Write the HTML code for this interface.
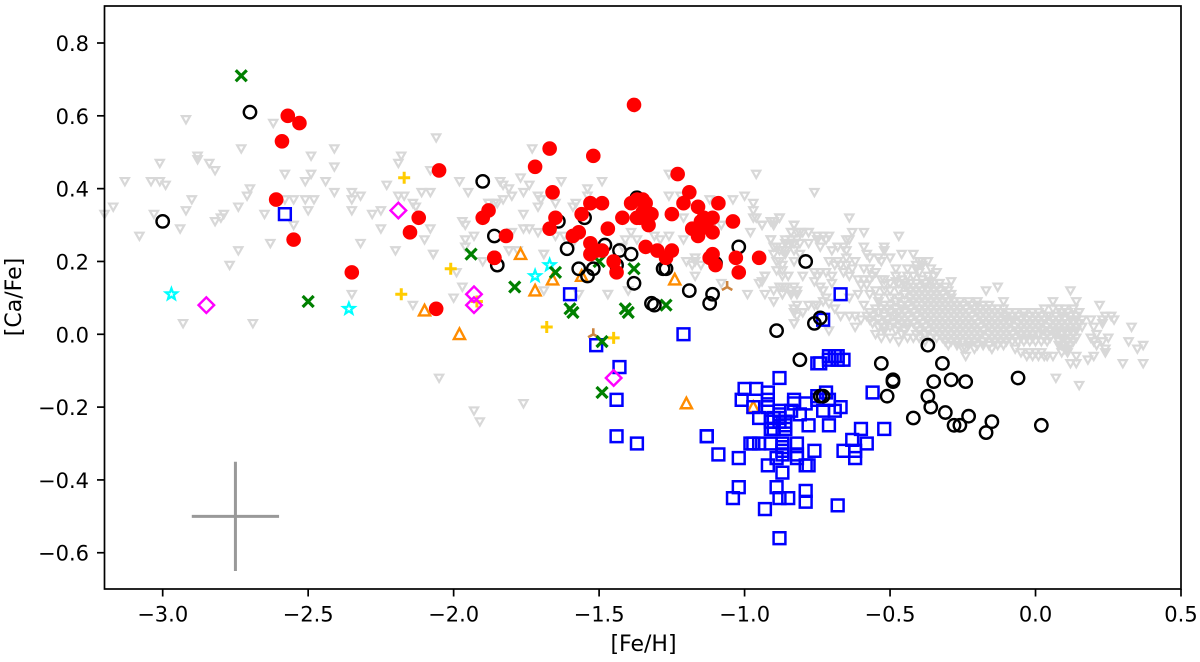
<!DOCTYPE html>
<html lang="en">
<head>
<meta charset="utf-8">
<title>[Ca/Fe] vs [Fe/H]</title>
<style>
html,body{margin:0;padding:0;background:#fff;}
svg{display:block;}
text{font-family:"DejaVu Sans","Liberation Sans",sans-serif;fill:#000;}
</style>
</head>
<body>
<svg id="chart" xmlns="http://www.w3.org/2000/svg" width="1200" height="662" viewBox="0 0 1200 662">
  <rect x="0" y="0" width="1200" height="662" fill="#fff"></rect>
  <g id="marks"></g>
  <rect x="104.5" y="6" width="1076.5" height="583" fill="none" stroke="#000" stroke-width="1.7"></rect>
  <g id="axes"></g>
  <text x="643.5" y="651" font-size="22" text-anchor="middle">[Fe/H]</text>
  <text x="21" y="297" font-size="22" text-anchor="middle" transform="rotate(-90 21 297)">[Ca/Fe]</text>
</svg>
<script>
const xTicks = [-3.0,-2.5,-2.0,-1.5,-1.0,-0.5,0.0,0.5];
const xTickLabels = ["\u22123.0","\u22122.5","\u22122.0","\u22121.5","\u22121.0","\u22120.5","0.0","0.5"];
const yTicks = [-0.6,-0.4,-0.2,0.0,0.2,0.4,0.6,0.8];
const yTickLabels = ["\u22120.6","\u22120.4","\u22120.2","0.0","0.2","0.4","0.6","0.8"];
const errorCenter = [-2.75,-0.5];
const errorHalf = [0.15,0.15];

const fieldStars = [
[-2.92,.59],[-2.62,.58],[-2.73,.51],[-2.41,.51],[-2.49,.49],[-2.88,.49],[-2.88,.48],[-3.01,.47],[-2.84,.47],[-2.82,.45],[-2.41,.46],[-2.49,.44],[-2.58,.44],[-2.51,.42],[-2.44,.42],[-3.13,.42],[-3.04,.42],[-3.01,.42],[-2.99,.41],[-2.70,.40],[-2.71,.38],[-2.41,.39],[-2.35,.39],[-2.35,.37],[-2.32,.38],[-2.90,.37],[-2.58,.37],[-2.55,.37],[-2.51,.37],[-2.48,.37],[-3.17,.35],[-2.92,.34],[-2.74,.35],[-2.50,.34],[-2.35,.34],[-3.20,.33],[-3.03,.33],[-2.79,.33],[-2.80,.32],[-2.82,.31],[-2.65,.33],[-2.94,.29],[-3.08,.27],[-2.55,.30],[-2.63,.25],[-2.32,.25],[-2.74,.23],[-2.77,.19],[-2.35,.11],[-2.93,.03],[-2.69,.03],
[-2.28,.33],[-2.25,.34],[-2.25,.29],[-2.20,.23],[-2.23,.41],[-2.18,.49],[-2.19,.47],[-2.19,.38],[-2.17,.38],[-2.14,.36],[-2.13,.35],[-2.11,.39],[-2.08,.39],[-2.06,.54],[-2.08,.45],[-1.98,.42],[-1.95,.39],[-1.97,.31],[-1.96,.30],[-2.08,.29],[-2.10,.26],[-2.07,.22],[-1.96,.26],[-1.93,.27],[-1.96,.24],[-1.90,.20],[-1.99,.17],[-1.97,.13],[-2.00,.10],[-2.14,.08],[-1.88,.36],[-1.85,.36],[-1.84,.42],
[-2.05,-.12],[-1.76,-.19],[-1.93,-.21],[-1.91,-.24],[-2.07,.22],[-1.81,.23],[-1.78,.23],[-1.69,.22],[-1.47,.11],[-1.40,.12],[-1.57,.11],[-1.69,.12],
[-1.73,.51],[-1.77,.43],[-1.74,.41],[-1.76,.39],[-1.63,.42],[-1.49,.42],[-1.83,.41],[-1.81,.40],[-1.80,.38],[-1.83,.37],[-1.88,.36],[-1.86,.36],[-1.71,.38],[-1.70,.37],[-1.71,.35],[-1.54,.40],[-1.54,.38],[-1.58,.36],[-1.59,.35],[-1.76,.33],[-1.65,.36],[-1.26,.44],[-1.26,.38],[-1.22,.38],[-.96,.44],[-.76,.39],[-1.12,.37],[-1.04,.37],[-1.00,.38],[-.97,.36],[-.97,.34],[-.97,.32],[-.96,.32],[-.94,.30],[-.90,.30],[-.88,.32],[-.91,.31],[-.98,.28],[-.83,.30],[-.84,.28],[-.82,.28],[-.80,.28],[-.78,.28],[-.91,.26],[-.89,.24],[-.87,.23],[-.86,.26],[-.86,.23],[-.83,.25],[-.75,.26],[-1.76,.29],[-1.74,.29],[-1.71,.28],[-1.21,.32],[-1.80,.28],[-1.81,.23],[-1.69,.22],[-1.62,.27],[-1.59,.25],[-1.65,.27],[-1.39,.28],[-1.41,.26],[-1.37,.26],[-1.42,.24],[-1.29,.26],[-1.26,.27],[-1.31,.27],[-1.21,.26],[-1.17,.21],[-1.17,.20],[-1.18,.19],[-1.15,.19],[-1.17,.16],[-1.20,.20],[-1.08,.14],[-.99,.11],[-1.08,.30],[-1.11,.30],[-.93,.16],[-.95,.14],[-.90,.12],[-.88,.13],[-.86,.13],[-.84,.11],[-.82,.11],[-.87,.11],[-.90,.09],[-1.47,.11],[-1.40,.12],[-.90,.22],[-.87,.19],[-.89,.20],[-.82,.08],[-.83,.06],[-.80,.06],[-.83,.03],[-.76,.08],
[-.88,.32],[-.90,.31],[-.90,.30],[-.94,.30],[-.83,.30],[-.64,.32],[-.59,.28],[-.47,.27],[-.84,.28],[-.81,.28],[-.78,.28],[-.75,.27],[-.73,.27],[-.71,.27],[-.63,.28],[-.65,.26],[-.84,.26],[-.82,.26],[-.84,.25],[-.86,.25],[-.81,.25],[-.78,.25],[-.74,.24],[-.75,.26],[-.72,.26],[-.64,.26],[-.66,.24],[-.91,.26],[-.90,.24],[-.88,.23],[-.86,.22],[-.83,.23],[-.81,.22],[-.59,.24],[-.52,.24],[-.52,.23],[-.65,.23],[-.68,.24],[-.70,.23],[-.46,.22],[-.42,.22],[-.58,.22],[-.57,.21],[-.54,.21],[-.50,.21],[-.53,.20],[-.88,.20],[-.83,.20],[-.71,.20],[-.68,.20],[-.62,.20],[-.65,.21],[-.40,.20],[-.39,.20],[-.37,.20],[-.41,.19],[-.39,.19],[-.48,.18],[-.34,.17],[-.89,.175],[-.87,.175],[-.85,.16],[-.87,.16],[-.93,.16],[-.94,.145],[-.80,.16],[-.76,.17],[-.74,.17],[-.72,.17],[-.75,.16],[-.70,.16],[-.67,.19],[-.65,.19],[-.63,.18],[-.66,.17],[-.64,.16],[-.69,.19],[-.59,.18],[-.57,.18],[-.61,.15],[-.59,.15],[-.57,.15],[-.60,.135],[-.58,.135],[-.56,.16],[-.52,.15],[-.48,.16],[-.46,.15],[-.48,.145],[-.45,.135],[-.40,.17],[-.39,.15],[-.36,.145],[-.33,.14],[-.29,.145],[-.76,.145],[-.74,.13],[-.70,.14],[-.73,.12],[-.83,.13],[-.87,.13],[-.84,.12],[-.82,.12],[-.87,.11],[-.84,.11],[-.93,.11],[-.90,.09],[-.78,.08],[-.75,.08],[-.83,.07],[-.80,.06],[-.82,.05],[-.83,.03],[-.71,.01],[-.67,.05],[-.64,.05],[-.62,.05],[-.69,.07],[-.62,.02],[-.72,.10],[-.73,.09],[-.71,.085],[-.59,.08],[-.64,.10],[-.61,.11],[-.57,.11],[-.54,.10],
[-.50,.14],[-.47,.14],[-.43,.14],[-.41,.14],[-.38,.14],[-.35,.14],[-.44,.16],[-.42,.16],[-.37,.16],[-.35,.16],[-.44,.18],[-.41,.18],[-.36,.18],[-.55,.17],[-.53,.15],[-.55,.12],[-.52,.12],[-.50,.12],[-.47,.12],[-.52,.135],
[-.44,.13],[-.42,.13],[-.40,.13],[-.38,.13],[-.36,.13],[-.34,.13],[-.31,.13],[-.43,.12],[-.41,.12],[-.39,.12],[-.37,.12],[-.35,.12],[-.33,.12],[-.30,.12],[-.45,.11],[-.42,.11],[-.40,.11],[-.38,.11],[-.36,.11],[-.34,.11],[-.32,.11],[-.29,.11],
[-.50,.10],[-.47,.10],[-.43,.10],[-.41,.10],[-.39,.10],[-.37,.10],[-.35,.10],[-.33,.10],[-.31,.10],[-.29,.10],
[-.54,.09],[-.48,.09],[-.45,.09],[-.42,.09],[-.38,.09],[-.36,.09],[-.34,.09],[-.32,.09],[-.30,.09],[-.28,.09],[-.26,.09],
[-.52,.08],[-.50,.08],[-.46,.08],[-.44,.08],[-.41,.08],[-.39,.08],[-.37,.08],[-.35,.08],[-.33,.08],[-.31,.08],[-.29,.08],[-.27,.08],[-.25,.08],[-.22,.08],[-.20,.08],
[-.55,.07],[-.53,.07],[-.51,.07],[-.48,.07],[-.46,.07],[-.43,.07],[-.40,.07],[-.38,.07],[-.36,.07],[-.34,.07],[-.32,.07],[-.30,.07],[-.28,.07],[-.26,.07],[-.24,.07],[-.21,.07],[-.19,.07],[-.17,.07],[-.15,.07],
[-.57,.06],[-.54,.06],[-.50,.06],[-.47,.06],[-.45,.06],[-.42,.06],[-.39,.06],[-.37,.06],[-.35,.06],[-.33,.06],[-.31,.06],[-.29,.06],[-.27,.06],[-.25,.06],[-.23,.06],[-.20,.06],[-.18,.06],[-.16,.06],[-.14,.06],[-.12,.06],
[-.58,.05],[-.56,.05],[-.52,.05],[-.49,.05],[-.46,.05],[-.44,.05],[-.41,.05],[-.38,.05],[-.36,.05],[-.34,.05],[-.32,.05],[-.30,.05],[-.28,.05],[-.26,.05],[-.24,.05],[-.22,.05],[-.19,.05],[-.17,.05],[-.15,.05],[-.13,.05],[-.11,.05],[.05,.05],[.07,.05],[.09,.05],[.12,.05],[.14,.05],
[-.60,.04],[-.57,.04],[-.54,.04],[-.51,.04],[-.47,.04],[-.45,.04],[-.43,.04],[-.40,.04],[-.37,.04],[-.35,.04],[-.33,.04],[-.31,.04],[-.29,.04],[-.27,.04],[-.25,.04],[-.23,.04],[-.21,.04],[-.18,.04],[-.16,.04],[-.14,.04],[-.12,.04],[-.10,.04],[-.08,.04],[-.05,.04],[-.03,.04],[-.01,.04],[.01,.04],[.03,.04],[.06,.04],[.08,.04],[.10,.04],[.12,.04],
[-.56,.03],[-.53,.03],[-.49,.03],[-.46,.03],[-.42,.03],[-.39,.03],[-.36,.03],[-.34,.03],[-.32,.03],[-.30,.03],[-.28,.03],[-.26,.03],[-.24,.03],[-.22,.03],[-.20,.03],[-.17,.03],[-.15,.03],[-.13,.03],[-.11,.03],[-.09,.03],[-.06,.03],[-.04,.03],[-.02,.03],[0,.03],[.02,.03],[.05,.03],[.07,.03],[.09,.03],[.11,.03],[.13,.03],[.15,.03],
[-.54,.02],[-.50,.02],[-.47,.02],[-.44,.02],[-.41,.02],[-.38,.02],[-.35,.02],[-.33,.02],[-.31,.02],[-.29,.02],[-.27,.02],[-.25,.02],[-.23,.02],[-.21,.02],[-.19,.02],[-.16,.02],[-.14,.02],[-.12,.02],[-.10,.02],[-.07,.02],[-.05,.02],[-.03,.02],[-.01,.02],[.01,.02],[.04,.02],[.08,.02],[.10,.02],[.12,.02],[.14,.02],[.16,.02],
[-.52,.01],[-.48,.01],[-.45,.01],[-.40,.01],[-.37,.01],[-.34,.01],[-.32,.01],[-.30,.01],[-.28,.01],[-.26,.01],[-.24,.01],[-.22,.01],[-.20,.01],[-.18,.01],[-.15,.01],[-.13,.01],[-.11,.01],[-.09,.01],[-.06,.01],[-.04,.01],[-.02,.01],[0,.01],[.02,.01],[.08,.01],[.10,.01],[.12,.01],[.14,.01],
[-.55,0],[-.46,0],[-.41,0],[-.38,0],[-.35,0],[-.33,0],[-.31,0],[-.29,0],[-.27,0],[-.25,0],[-.23,0],[-.21,0],[-.19,0],[-.16,0],[-.14,0],[-.12,0],[-.10,0],[-.08,0],[-.05,0],[-.03,0],[-.01,0],[.01,0],[.09,0],[.11,0],[.13,0],
[-.53,-.01],[-.50,-.01],[-.42,-.01],[-.36,-.01],[-.32,-.01],[-.30,-.01],[-.28,-.01],[-.26,-.01],[-.24,-.01],[-.22,-.01],[-.20,-.01],[-.17,-.01],[-.15,-.01],[-.13,-.01],[-.11,-.01],[-.07,-.01],[-.05,-.01],[-.03,-.01],[-.01,-.01],[.09,-.01],[.10,-.01],[.12,-.01],[.14,-.01],
[-.47,-.02],[-.31,-.02],[-.29,-.02],[-.27,-.02],[-.25,-.02],[-.23,-.02],[-.21,-.02],[-.18,-.02],[-.14,-.02],[-.12,-.02],[-.04,-.02],[-.02,-.02],[0,-.02],[.08,-.02],[.11,-.02],[.13,-.02],[-.23,-.03],[-.20,-.03],[-.13,-.03],[.09,-.03],[.10,-.03],[.12,-.03],[-.24,-.04],[-.21,-.04],[-.15,-.04],[.10,-.04],[.11,-.04],
[-.17,.12],[-.13,.13],[-.11,.09],[.12,.12],[.22,.08],[.14,.09],[.06,.09],[.33,.02],[.32,-.02],[.37,-.03],[.35,-.04],[.30,-.08],[.37,-.08],[.07,-.12],[.15,-.14],[.18,-.07],[.20,-.06],[.14,-.06],[.12,-.08],[.14,-.08],[.09,-.05],[.11,-.05],[.24,.05],[.26,.05],[.27,.04],[.23,.04],[.23,.03],[.19,.04],[.20,.02],[.21,0],[.19,-.01],[.20,-.02],[.25,-.01],[.23,-.02],[.24,-.04],[.24,-.05],[.21,-.03],[.16,.04],[.14,.04],[.10,.07],[.13,.07],[.03,.07],[.01,.06],[-.01,.06],[-.04,.06],[-.06,.05],[-.08,.05],[-.01,-.06],[.01,-.06],[.03,-.06],[.04,-.06],[.06,-.06],[-.05,-.05],[-.07,-.04],[-.11,-.03],[-.15,-.04],[-.24,-.06],[-.25,-.04],[-.03,-.06],[-.02,-.05],[0,-.05],[.02,-.05],[.08,-.03],[.09,.06],[.11,.06],[.15,.06],
[-.10,.05],[-.09,.06],[-.07,.06],[-.04,.05],[-.02,.05],[0,.05],[.02,.05],[.04,.05],[-.13,.07],[-.11,.07],[-.23,.09],[-.20,.09],[-.18,.08],[-.16,.08],[.06,.07],[.08,.07],[.03,.01],[.04,0],[.05,.01],[.03,-.01],[.05,-.01],[.06,.02],[.07,0],[.07,.01],[-.10,-.02],[-.08,-.02],[-.06,-.02],[.02,-.02],[.04,-.02],[-.09,-.01],[-.16,-.03],[-.18,-.03],[-.27,-.03],[-.30,-.03],[-.51,.03],[-.44,.03],[-.48,.05],[-.52,.02],[-.44,-.01],[-.40,-.01],[-.38,-.02],[-.34,-.01]
];
const goldPlus = [[-2.17,.43],[-2.01,.18],[-2.18,.11],[-1.92,.09],[-1.68,.02],[-1.45,-.01]];
const brownTri = [[-1.06,.13],[-1.52,0]];
const orangeTriangles = [[-2.10,.065],[-1.98,0],[-1.77,.22],[-1.72,.12],[-1.66,.15],[-1.56,.16],[-1.24,.15],[-1.20,-.19],[-.97,-.20]];
const cyanStars = [[-2.97,.11],[-2.36,.07],[-1.72,.16],[-1.67,.19]];
const blueSquares = [
[-.88,-.12],[-1.00,-.15],[-.96,-.15],[-.92,-.16],[-1.01,-.18],[-.92,-.18],[-.97,-.20],[-.92,-.20],[-.95,-.23],[-.88,-.21],[-.84,-.21],[-.83,-.18],[-.83,-.19],[-.79,-.19],[-.75,-.17],[-.75,-.18],[-.72,-.16],[-.71,-.18],[-.67,-.20],[-.69,-.21],[-.73,-.21],[-.81,-.22],[-.88,-.22],[-.88,-.23],[-.88,-.24],[-.90,-.23],[-.90,-.24],[-.91,-.24],[-.86,-.24],[-.86,-.25],[-.86,-.26],[-.91,-.26],[-.90,-.26],[-.78,-.25],[-.71,-.25],[-.60,-.26],[-.52,-.26],[-1.13,-.28],[-.58,-.30],[-.63,-.29],[-.66,-.32],[-.62,-.32],[-.62,-.34],[-.76,-.32],[-.82,-.30],[-.97,-.30],[-.95,-.30],[-.98,-.30],[-.91,-.30],[-.87,-.30],[-.87,-.31],[-.87,-.32],[-.87,-.33],[-.82,-.33],[-.82,-.34],[-1.09,-.33],[-1.02,-.34],[-.89,-.34],[-.92,-.36],[-.87,-.38],[-.79,-.36],[-.78,-.36],[-1.02,-.42],[-1.04,-.45],[-.89,-.42],[-.79,-.43],[-.79,-.46],[-.88,-.45],[-.85,-.45],[-.93,-.48],[-.68,-.47],[-.88,-.56],[-.71,-.06],[-.69,-.06],[-.68,-.06],[-.66,-.07],[-.75,-.08],[-.74,-.08],[-.71,-.07],[-.68,-.07],[-.56,-.16],
[-.67,.11],[-.73,.04],[-1.60,.11],[-2.58,.33],[-1.51,-.03],[-1.43,-.09],[-1.44,-.18],[-1.44,-.28],[-1.37,-.30],[-1.21,0],[-1.13,-.28]
];
const greenCrosses = [[-2.73,.71],[-2.50,.09],[-1.94,.22],[-1.79,.13],[-1.65,.17],[-1.60,.07],[-1.59,.06],[-1.38,.18],[-1.41,.07],[-1.40,.06],[-1.27,.08],[-1.49,-.02],[-1.49,-.16],[-1.50,.20]];
const magentaDiamonds = [[-2.85,.08],[-2.19,.34],[-1.93,.11],[-1.93,.08],[-1.45,-.12]];
const blackCircles = [
[-3.00,.31],[-2.70,.61],[-1.90,.42],[-1.86,.27],[-1.85,.19],[-1.64,.31],[-1.55,.32],[-1.61,.235],[-1.57,.18],[-1.52,.18],[-1.54,.16],[-1.48,.245],[-1.43,.23],[-1.39,.22],[-1.44,.19],[-1.38,.14],[-1.37,.375],[-1.28,.18],[-1.27,.18],[-1.32,.085],[-1.31,.08],[-1.19,.12],[-1.11,.11],[-1.12,.085],[-1.02,.24],[-1.10,.195],[-.79,.20],[-.89,.01],[-.74,.045],[-.76,.03],[-.81,-.07],[-.37,-.03],[-.53,-.08],[-.32,-.08],[-.49,-.125],[-.49,-.13],[-.35,-.13],[-.29,-.125],[-.24,-.13],[-.06,-.12],[-.51,-.17],[-.37,-.17],[-.73,-.17],[-.74,-.17],[-.36,-.20],[-.31,-.215],[-.42,-.23],[-.23,-.225],[-.15,-.24],[.02,-.25],[-.28,-.25],[-.26,-.25],[-.17,-.27]
];
const redDots = [
[-2.57,.60],[-2.53,.58],[-2.59,.53],[-2.61,.37],[-2.55,.26],[-2.35,.17],[-2.05,.45],[-2.12,.32],[-2.15,.28],[-2.06,.07],[-1.88,.34],[-1.90,.32],[-1.86,.21],[-1.38,.63],[-1.67,.51],[-1.52,.49],[-1.72,.46],[-1.23,.44],[-1.66,.39],[-1.19,.39],[-1.53,.36],[-1.49,.36],[-1.21,.36],[-1.16,.35],[-1.09,.36],[-1.56,.33],[-1.65,.32],[-1.67,.29],[-1.42,.32],[-1.25,.33],[-1.47,.29],[-1.57,.28],[-1.59,.27],[-1.39,.36],[-1.37,.37],[-1.35,.37],[-1.34,.36],[-1.37,.32],[-1.35,.335],[-1.32,.33],[-1.33,.30],[-1.36,.32],[-1.04,.31],[-1.11,.32],[-1.14,.32],[-1.15,.31],[-1.18,.29],[-1.16,.27],[-1.11,.28],[-1.13,.31],[-1.15,.29],[-1.34,.24],[-1.30,.23],[-1.25,.23],[-1.27,.21],[-1.53,.25],[-1.53,.22],[-1.51,.23],[-1.49,.23],[-1.45,.20],[-1.44,.17],[-1.11,.22],[-1.12,.21],[-1.10,.19],[-1.03,.21],[-1.02,.17],[-.95,.21],[-1.82,.27],[-1.86,.21]
];

function xPos(v){ return 104.5 + (v + 3.2) * 1076.5 / 3.7; }
function yPos(v){ return 43 + (0.8 - v) * 364.1; }

const svgNS = 'http://www.w3.org/2000/svg';
const marksLayer = document.getElementById('marks');
const axesLayer = document.getElementById('axes');

const SHAPES = {
  tridown: 'M-4.1,-3.3H4.1L0,3.9Z',
  triup: 'M-5.6,4.8H5.6L0,-5.8Z',
  plus: 'M-6,0H6M0,-6V6',
  y: 'M0,0V-6M0,0L5.2,3M0,0L-5.2,3',
  star: 'M0,-5.9L1.44,-1.98L5.61,-1.82L2.33,.75L3.47,4.77L0,2.45L-3.47,4.77L-2.33,.75L-5.61,-1.82L-1.44,-1.98Z',
  square: 'M-5.9,-5.9H5.9V5.9H-5.9Z',
  cross: 'M-5.5,-5.5L5.5,5.5M-5.5,5.5L5.5,-5.5',
  diamond: 'M0,-7.8L7.8,0L0,7.8L-7.8,0Z'
};

function drawPaths(points, shape, color, width, label){
  const group = document.createElementNS(svgNS, 'g');
  
  
  points.forEach(function(p){
    const el = document.createElementNS(svgNS, 'path');
    
    
    el.setAttribute('d', SHAPES[shape]);
    el.setAttribute('transform', 'translate(' + xPos(p[0]) + ',' + yPos(p[1]) + ')');
    el.setAttribute('fill', 'none');
    el.setAttribute('stroke', color);
    el.setAttribute('stroke-width', width);
    group.appendChild(el);
  });
  marksLayer.appendChild(group);
}

function drawCircles(points, radius, fill, stroke, width, label){
  const group = document.createElementNS(svgNS, 'g');
  
  
  points.forEach(function(p){
    const el = document.createElementNS(svgNS, 'circle');
    
    
    el.setAttribute('cx', xPos(p[0]));
    el.setAttribute('cy', yPos(p[1]));
    el.setAttribute('r', radius);
    el.setAttribute('fill', fill);
    el.setAttribute('stroke', stroke);
    el.setAttribute('stroke-width', width);
    group.appendChild(el);
  });
  marksLayer.appendChild(group);
}

function addLine(parent, x1, y1, x2, y2, color, width, label){
  const el = document.createElementNS(svgNS, 'line');
  
  
  el.setAttribute('x1', x1);
  el.setAttribute('y1', y1);
  el.setAttribute('x2', x2);
  el.setAttribute('y2', y2);
  el.setAttribute('stroke', color);
  el.setAttribute('stroke-width', width);
  parent.appendChild(el);
}

drawPaths(fieldStars, 'tridown', '#d8d8d8', 2.2, 'field-star');
drawPaths(goldPlus, 'plus', '#ffcc00', 3, 'gold-plus');
drawPaths(brownTri, 'y', '#cd853f', 2.6, 'brown-tri');
drawPaths(orangeTriangles, 'triup', '#ff8c00', 2.4, 'orange-triangle');
drawPaths(cyanStars, 'star', '#00ffff', 2.2, 'cyan-star');
drawPaths(blueSquares, 'square', '#0000ff', 2.5, 'blue-square');
drawPaths(greenCrosses, 'cross', '#008000', 3.2, 'green-cross');
drawPaths(magentaDiamonds, 'diamond', '#ff00ff', 2.4, 'magenta-diamond');
drawCircles(blackCircles, 6.2, 'none', '#000', 2.4, 'black-circle');
drawCircles(redDots, 7.3, '#ff0000', 'none', 0, 'red-dot');

addLine(marksLayer, xPos(errorCenter[0]-errorHalf[0]), yPos(errorCenter[1]), xPos(errorCenter[0]+errorHalf[0]), yPos(errorCenter[1]), '#999', 3, 'error-bar-horizontal');
addLine(marksLayer, xPos(errorCenter[0]), yPos(errorCenter[1]-errorHalf[1]), xPos(errorCenter[0]), yPos(errorCenter[1]+errorHalf[1]), '#999', 3, 'error-bar-vertical');

xTicks.forEach(function(v, i){
  addLine(axesLayer, xPos(v), 589, xPos(v), 596.5, '#000', 1.7, 'x-tick');
  const t = document.createElementNS(svgNS, 'text');
  
  
  t.setAttribute('x', xPos(v));
  t.setAttribute('y', 621.5);
  t.setAttribute('font-size', '21');
  t.setAttribute('text-anchor', 'middle');
  t.textContent = xTickLabels[i];
  axesLayer.appendChild(t);
});
yTicks.forEach(function(v, i){
  addLine(axesLayer, 97, yPos(v), 104.5, yPos(v), '#000', 1.7, 'y-tick');
  const t = document.createElementNS(svgNS, 'text');
  
  
  t.setAttribute('x', 89);
  t.setAttribute('y', yPos(v) + 8);
  t.setAttribute('font-size', '21');
  t.setAttribute('text-anchor', 'end');
  t.textContent = yTickLabels[i];
  axesLayer.appendChild(t);
});
</script>
</body>
</html>
